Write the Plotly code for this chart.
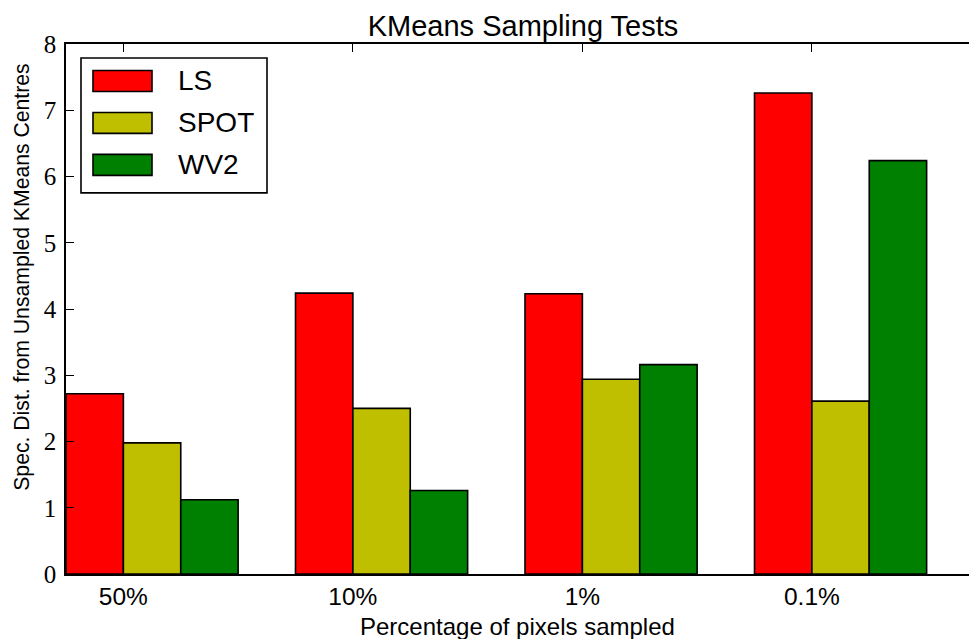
import numpy as np
import plotly.graph_objects as go

categories = ["50%", "10%", "1%", "0.1%"]
series_names = ["LS", "SPOT", "WV2"]
ls_values = [2.72, 4.24, 4.23, 7.26]
spot_values = [1.98, 2.50, 2.94, 2.61]
wv2_values = [1.12, 1.26, 3.16, 6.24]
colors = ["#FF0000", "#BFBF00", "#008000"]
y_ticks = [0, 1, 2, 3, 4, 5, 6, 7, 8]

series_values = [ls_values, spot_values, wv2_values]
bar_w = 0.25
idx = np.arange(len(categories))

fig = go.Figure()
for k, (name, vals, col) in enumerate(zip(series_names, series_values, colors)):
    fig.add_trace(go.Bar(
        x=idx, y=vals, name=name, offset=k * bar_w, width=bar_w,
        marker=dict(color=col, line=dict(color="black", width=1.6)),
        showlegend=False,
    ))

W, H = 969, 639
ml, mr, mt, mb = 66, 0, 44, 64.5
pw, ph = W - ml - mr, H - mt - mb
px_per_unit = 229.5
xmax = pw / px_per_unit


def px_x(p):
    return (p - ml) / pw


def px_y(p):
    return (H - mb - p) / ph


fig.update_layout(
    width=W, height=H,
    margin=dict(l=ml, r=mr, t=mt, b=mb, autoexpand=False),
    plot_bgcolor="white", paper_bgcolor="white",
    barmode="overlay",
    title=dict(text="KMeans Sampling Tests", x=px_x(523), xref="paper", xanchor="center",
               y=1, yref="paper", yanchor="bottom", pad=dict(b=8),
               font=dict(family="Liberation Sans", size=29, color="black")),
    xaxis=dict(range=[0, xmax], tickvals=idx + bar_w, ticktext=categories,
               ticks="inside", ticklen=8, tickcolor="black", tickwidth=1,
               showline=True, linecolor="black", linewidth=1.6, mirror="ticks",
               showgrid=False, zeroline=False, automargin=False,
               tickfont=dict(family="Liberation Sans", size=24.5, color="black")),
    yaxis=dict(range=[0, 8], tickvals=y_ticks, ticks="inside", ticklen=8,
               tickcolor="black", tickwidth=1,
               showline=True, linecolor="black", linewidth=1.6, mirror=False,
               showgrid=False, zeroline=False, ticklabelstandoff=3, automargin=False,
               tickfont=dict(family="Liberation Serif", size=25, color="black")),
)

fig.add_annotation(text="Percentage of pixels sampled",
                   xref="paper", yref="paper", x=0.5, y=0, yshift=-52,
                   xanchor="center", yanchor="middle", showarrow=False,
                   font=dict(family="Liberation Sans", size=24, color="black"))

fig.add_annotation(text="Spec. Dist. from Unsampled KMeans Centres", textangle=-90,
                   xref="paper", yref="paper", x=0, y=(574.5 - 278) / ph,
                   xshift=-44, xanchor="center", yanchor="middle", showarrow=False,
                   font=dict(family="Liberation Sans", size=21.2, color="black"))

# custom legend box
fig.add_shape(type="rect", xref="paper", yref="paper",
              x0=px_x(81), x1=px_x(267), y0=px_y(193), y1=px_y(58),
              line=dict(color="black", width=1.6), fillcolor="white", layer="above")
row_centers = [81, 123, 165]
for name, col, yc in zip(series_names, colors, row_centers):
    fig.add_shape(type="rect", xref="paper", yref="paper",
                  x0=px_x(93), x1=px_x(152), y0=px_y(yc + 10.5), y1=px_y(yc - 10.5),
                  line=dict(color="black", width=1.6), fillcolor=col, layer="above")
    fig.add_annotation(text=name, xref="paper", yref="paper", x=px_x(176), y=px_y(yc),
                       xanchor="left", yanchor="middle", showarrow=False,
                       font=dict(family="Liberation Sans", size=28, color="black"))

fig.write_html("out.html", config={"displayModeBar": False},
               post_script="document.body.style.margin='0';document.body.style.overflow='hidden';")
